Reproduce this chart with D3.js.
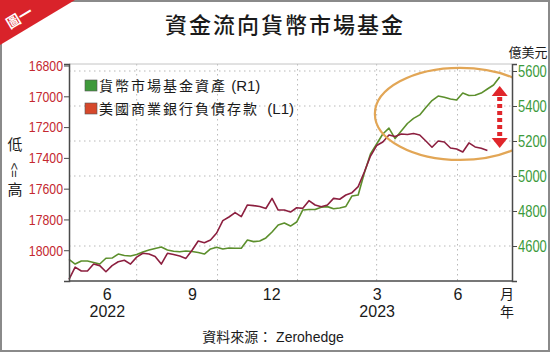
<!DOCTYPE html>
<html>
<head>
<meta charset="utf-8">
<script src="https://cdn.jsdelivr.net/npm/d3@7"></script>
<style>
  body { margin: 0; background: #fff; }
  svg { display: block; }
</style>
</head>
<body>
<div id="chart"></div>
<script>
// weekly observations, first one on 2022-03-16
const firstWeek = new Date(2022, 2, 16);

// 美國商業銀行負債存款 (L1, inverted left axis)
const depositsL1 = [
  18190, 18110, 18135, 18135, 18090, 18100, 18140, 18100, 18075, 18065,
  18090, 18045, 18020, 18025, 18040, 18090, 18020, 18028, 18038, 18053,
  18000, 17940, 17951, 17934, 17888, 17808, 17784, 17756, 17782, 17706,
  17710, 17716, 17729, 17663, 17739, 17739, 17752, 17724, 17728, 17678,
  17706, 17717, 17706, 17663, 17669, 17641, 17626, 17587, 17492, 17388,
  17320, 17297, 17251, 17261, 17245, 17248, 17242, 17251, 17290, 17331,
  17290, 17297, 17336, 17342, 17362, 17303, 17329, 17338, 17352
];

// 貨幣市場基金資產 (R1, right axis)
const mmfAssetsR1 = [
  4524, 4497, 4514, 4514, 4506, 4497, 4530, 4531, 4554, 4546,
  4543, 4551, 4566, 4577, 4586, 4594, 4577, 4570, 4567, 4571,
  4569, 4563, 4554, 4583, 4593, 4583, 4589, 4587, 4587, 4634,
  4625, 4629, 4646, 4680, 4720, 4731, 4714, 4737, 4806, 4809,
  4809, 4821, 4825, 4813, 4817, 4826, 4886, 4891, 5017, 5126,
  5183, 5240, 5274, 5214, 5257, 5300, 5329, 5349, 5391, 5431,
  5457, 5450, 5440, 5434, 5474, 5460, 5461, 5474, 5497, 5520,
  5566
];

const leftTicks = [16800, 17000, 17200, 17400, 17600, 17800, 18000];
const rightTicks = [4600, 4800, 5000, 5200, 5400, 5600];
const gridDates = ["2022-06-01", "2022-09-01", "2022-12-01", "2023-03-01", "2023-06-01"];
const monthTickDates = ["2022-04-28", "2022-08-03", "2022-11-01", "2023-03-01", "2023-06-01"];
const monthTickLabels = ["6", "9", "12", "3", "6"];
const yearTickDates = ["2022-04-28", "2023-03-01"];
const yearTickLabels = ["2022", "2023"];
const seriesNames = ["貨幣市場基金資產", "美國商業銀行負債存款"];
const seriesTags = [" (R1)", "  (L1)"];

const W = 550, H = 352;
const margin = { top: 64, right: 38, bottom: 71, left: 69 };
const plotW = W - margin.left - margin.right;
const plotH = H - margin.top - margin.bottom;

const cjk = "'Noto Sans CJK TC', 'Noto Sans CJK SC', sans-serif";
const latin = "'Liberation Sans', Arial, 'Noto Sans CJK TC', sans-serif";

const parse = d3.timeParse("%Y-%m-%d");
const weekDate = i => d3.timeDay.offset(firstWeek, 7 * i);

const svg = d3.select("#chart").append("svg")
  .attr("width", W)
  .attr("height", H);

// frame + corner badge
svg.append("rect")
  .attr("x", 1).attr("y", 1)
  .attr("width", W - 2).attr("height", H - 2)
  .attr("fill", "#fff")
  .attr("stroke", "#8a8a8a")
  .attr("stroke-width", 2);

svg.append("path")
  .attr("d", "M0,0 L75,0 L0,45 Z")
  .attr("fill", "#d9232a");

svg.append("text")
  .attr("transform", "translate(22,22) rotate(-31)")
  .attr("text-anchor", "middle")
  .attr("font-family", cjk)
  .attr("font-size", 14)
  .attr("font-weight", 700)
  .attr("fill", "#fff")
  .text("圖一");

// title
svg.append("text")
  .attr("x", 285).attr("y", 33)
  .attr("text-anchor", "middle")
  .attr("font-family", cjk)
  .attr("font-size", 22)
  .attr("font-weight", 500)
  .attr("letter-spacing", 2)
  .attr("fill", "#1a1a1a")
  .text("資金流向貨幣市場基金");

const g = svg.append("g")
  .attr("transform", `translate(${margin.left},${margin.top})`);

// scales
const x = d3.scaleTime()
  .domain([firstWeek, new Date(2023, 7, 2)])
  .range([0, plotW]);

const yLeft = d3.scaleLinear()
  .domain([16790, 18200])   // inverted: small values on top
  .range([0, plotH]);

const yRight = d3.scaleLinear()
  .domain([4400, 5640])
  .range([plotH, 0]);

// dotted grid
g.selectAll(".hgrid")
  .data(rightTicks)
  .enter().append("line")
  .attr("class", "hgrid")
  .attr("x1", 0).attr("x2", plotW)
  .attr("y1", d => yRight(d)).attr("y2", d => yRight(d))
  .attr("stroke", "#b8b8b8")
  .attr("stroke-dasharray", "1.5,3.5");

g.selectAll(".vgrid")
  .data(gridDates.map(parse))
  .enter().append("line")
  .attr("class", "vgrid")
  .attr("x1", d => x(d)).attr("x2", d => x(d))
  .attr("y1", 0).attr("y2", plotH)
  .attr("stroke", "#b8b8b8")
  .attr("stroke-dasharray", "1.5,3.5");

// top border
g.append("line")
  .attr("x1", 0).attr("x2", plotW)
  .attr("y1", 0).attr("y2", 0)
  .attr("stroke", "#c4c4c4");

// lines
const clip = svg.append("defs").append("clipPath").attr("id", "plotclip");
clip.append("rect").attr("width", plotW).attr("height", plotH);

const lineL = d3.line()
  .x((d, i) => x(weekDate(i)))
  .y(d => yLeft(d));
const lineR = d3.line()
  .x((d, i) => x(weekDate(i)))
  .y(d => yRight(d));

g.append("path")
  .datum(mmfAssetsR1)
  .attr("d", lineR)
  .attr("fill", "none")
  .attr("stroke", "#5c8f2c")
  .attr("stroke-width", 1.6)
  .attr("stroke-linejoin", "round");

g.append("path")
  .datum(depositsL1)
  .attr("d", lineL)
  .attr("fill", "none")
  .attr("stroke", "#8c1f3f")
  .attr("stroke-width", 1.6)
  .attr("stroke-linejoin", "round");

// highlight ellipse (clipped to the plot)
const ellCenter = { date: new Date(2023, 5, 4), value: 5355 };
g.append("ellipse")
  .attr("clip-path", "url(#plotclip)")
  .attr("cx", x(ellCenter.date))
  .attr("cy", yRight(ellCenter.value))
  .attr("rx", x(d3.timeDay.offset(ellCenter.date, 97)) - x(ellCenter.date))
  .attr("ry", yRight(ellCenter.value - 263) - yRight(ellCenter.value))
  .attr("fill", "none")
  .attr("stroke", "#e2a656")
  .attr("stroke-width", 2.2);

// red dashed double arrow
const arrowDate = new Date(2023, 6, 19);
const ax = x(arrowDate);
const aTop = yRight(5514), aBot = yRight(5160);
const headH = 10, headW = 8;
g.append("line")
  .attr("x1", ax).attr("x2", ax)
  .attr("y1", aTop + headH + 1).attr("y2", aBot - headH)
  .attr("stroke", "#e0262b")
  .attr("stroke-width", 5)
  .attr("stroke-dasharray", "4,3");
g.append("path")
  .attr("d", `M${ax},${aTop} L${ax + headW},${aTop + headH} L${ax - headW},${aTop + headH} Z`)
  .attr("fill", "#e0262b");
g.append("path")
  .attr("d", `M${ax},${aBot} L${ax + headW},${aBot - headH} L${ax - headW},${aBot - headH} Z`)
  .attr("fill", "#e0262b");

// axes (tick labels squeezed horizontally to look condensed)
const leftAxis = g.append("g")
  .call(d3.axisLeft(yLeft).tickValues(leftTicks).tickFormat(d3.format("d"))
    .tickSizeOuter(0).tickSize(5).tickPadding(2.3));
leftAxis.select(".domain").attr("stroke", "#4a4a4a").attr("stroke-width", 1.5);
leftAxis.selectAll(".tick line").attr("stroke", "#4a4a4a");
leftAxis.selectAll("text")
  .attr("font-family", latin)
  .attr("font-size", 15)
  .attr("transform", "scale(0.82,1)")
  .attr("fill", "#c4282f");

const rightAxis = g.append("g")
  .attr("transform", `translate(${plotW},0)`)
  .call(d3.axisRight(yRight).tickValues(rightTicks).tickFormat(d3.format("d"))
    .tickSizeOuter(0).tickSize(5).tickPadding(2.4));
rightAxis.select(".domain").attr("stroke", "#4a4a4a").attr("stroke-width", 1.5);
rightAxis.selectAll(".tick line").attr("stroke", "#4a4a4a");
rightAxis.selectAll("text")
  .attr("font-family", latin)
  .attr("font-size", 16)
  .attr("transform", "scale(0.81,1)")
  .attr("fill", "#3c9a3c");

g.append("line")
  .attr("x1", 0).attr("x2", plotW)
  .attr("y1", plotH).attr("y2", plotH)
  .attr("stroke", "#4a4a4a")
  .attr("stroke-width", 1.5);

const monthAxis = g.append("g")
  .attr("transform", `translate(0,${plotH})`)
  .call(d3.axisBottom(x)
    .tickValues(monthTickDates.map(parse))
    .tickFormat((d, i) => monthTickLabels[i])
    .tickSize(0).tickPadding(7.5));
monthAxis.select(".domain").remove();
monthAxis.selectAll("text")
  .attr("font-family", latin)
  .attr("font-size", 16)
  .attr("fill", "#1a1a1a");

const yearAxis = g.append("g")
  .attr("transform", `translate(0,${plotH})`)
  .call(d3.axisBottom(x)
    .tickValues(yearTickDates.map(parse))
    .tickFormat((d, i) => yearTickLabels[i])
    .tickSize(0).tickPadding(24.5));
yearAxis.select(".domain").remove();
yearAxis.selectAll("text")
  .attr("font-family", latin)
  .attr("font-size", 16)
  .attr("fill", "#1a1a1a");

// unit labels
svg.append("text")
  .attr("x", 507).attr("y", 299)
  .attr("text-anchor", "middle")
  .attr("font-family", cjk).attr("font-size", 14).attr("fill", "#1a1a1a")
  .text("月");
svg.append("text")
  .attr("x", 507).attr("y", 317)
  .attr("text-anchor", "middle")
  .attr("font-family", cjk).attr("font-size", 14).attr("fill", "#1a1a1a")
  .text("年");

svg.append("text")
  .attr("x", 528).attr("y", 57)
  .attr("text-anchor", "middle")
  .attr("font-family", cjk).attr("font-size", 13).attr("fill", "#1a1a1a")
  .text("億美元");

// 低 <= 高 on the left
svg.append("text")
  .attr("x", 15).attr("y", 150)
  .attr("text-anchor", "middle")
  .attr("font-family", cjk).attr("font-size", 15).attr("fill", "#1a1a1a")
  .text("低");
svg.append("text")
  .attr("transform", "translate(15,170) rotate(90)")
  .attr("text-anchor", "middle")
  .attr("dy", "0.35em")
  .attr("font-family", latin).attr("font-size", 13).attr("fill", "#1a1a1a")
  .text("<=");
svg.append("text")
  .attr("x", 15).attr("y", 195)
  .attr("text-anchor", "middle")
  .attr("font-family", cjk).attr("font-size", 15).attr("fill", "#1a1a1a")
  .text("高");

// source
svg.append("text")
  .attr("x", 273).attr("y", 342)
  .attr("text-anchor", "middle")
  .attr("font-family", latin).attr("font-size", 14).attr("fill", "#1a1a1a")
  .text("資料來源： Zerohedge");

// legend
const legendColors = ["#3f9a3b", "#d6482b"];
const legend = g.selectAll(".legend")
  .data(seriesNames)
  .enter().append("g")
  .attr("class", "legend")
  .attr("transform", (d, i) => `translate(16,${16 + i * 23})`);
legend.append("rect")
  .attr("width", 12).attr("height", 11)
  .attr("fill", (d, i) => legendColors[i])
  .attr("stroke", "#555").attr("stroke-width", 0.6);
const lt = legend.append("text")
  .attr("x", 14).attr("y", 10.5)
  .attr("font-size", 14)
  .attr("fill", "#1a1a1a");
lt.append("tspan")
  .attr("font-family", cjk)
  .attr("letter-spacing", 2)
  .text(d => d);
lt.append("tspan")
  .attr("font-family", latin)
  .attr("font-size", 15)
  .attr("xml:space", "preserve")
  .style("white-space", "pre")
  .text((d, i) => seriesTags[i]);
</script>
</body>
</html>
